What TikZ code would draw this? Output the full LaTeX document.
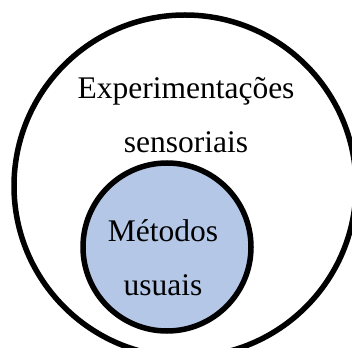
\documentclass[tikz,border=0pt]{standalone}
\usepackage{fontspec}
\setmainfont{Liberation Serif}
\usepackage{tikz}
\usepackage{xcolor}
\definecolor{cFill}{RGB}{180,199,231}
\tikzset{
	ring/.style   ={circle, draw=black, line width=5.5pt, inner sep=0pt},
	label/.style  ={align=center, inner sep=0pt, font=\fontsize{31.5}{54}\selectfont},
}

\begin{document}
\begin{tikzpicture}[x=1pt, y=-1pt]
	\clip (0,0) rectangle (352,347);
	\useasboundingbox (0,0) rectangle (352,347);
	\node[ring, fill=white, minimum size=342pt] (outer) at (185,186) {};
	\node[ring, fill=cFill, minimum size=168pt] (inner) at (167,247) {};
	\node[label] (exper) at (186,115) {Experimentações\\sensoriais};
	\node[label] (usual) at (163,258) {Métodos\\usuais};
\end{tikzpicture}
\end{document}
